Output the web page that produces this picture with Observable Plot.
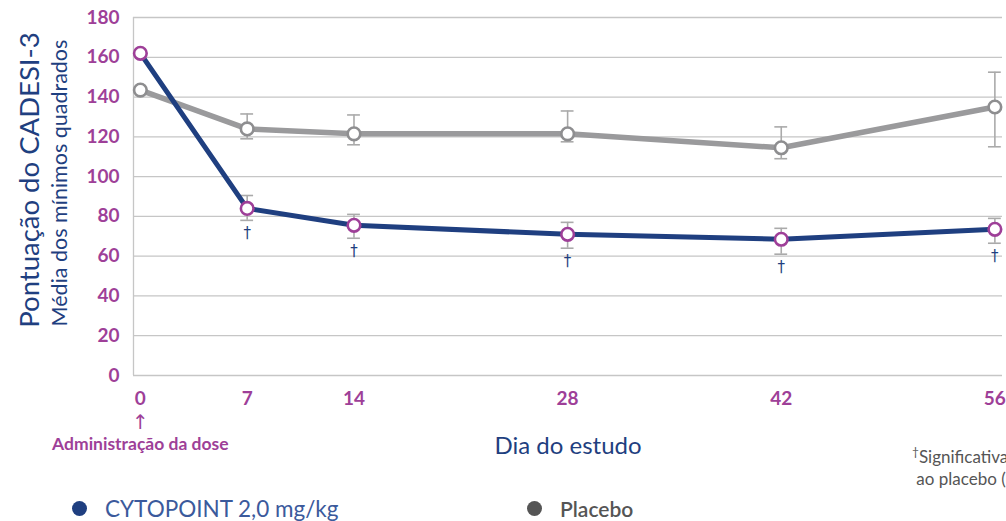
<!DOCTYPE html>
<html>
<head>
<meta charset="utf-8">
<script src="https://cdn.jsdelivr.net/npm/d3@7"></script>
<script src="https://cdn.jsdelivr.net/npm/@observablehq/plot@0.6"></script>
<style>
  html, body { margin: 0; padding: 0; background: #fff; overflow: hidden; }
  #wrap { position: relative; width: 1006px; height: 521px; overflow: hidden; font-family: Lato, "Open Sans", sans-serif; }
  .ytitle { position: absolute; white-space: nowrap; transform-origin: center center; transform: translate(-50%, -50%) rotate(-90deg); }
  #yt1 { left: 28px; top: 180px; font-size: 27.5px; color: #1f3f80; }
  #yt2 { left: 59px; top: 183px; font-size: 21.5px; color: #1f3f80; }
  #legend { position: absolute; left: 72px; top: 495px; font-size: 22.5px; white-space: nowrap; }
  .lg { position: absolute; top: 0; display: flex; align-items: center; }
  .sw { display: inline-block; width: 15px; height: 15px; border-radius: 50%; margin-right: 18px; }
  #foot { position: absolute; left: 912px; top: 441px; font-size: 17px; color: #555; line-height: 22px; white-space: nowrap; }
</style>
</head>
<body>
<div id="wrap">
  <div id="chart"></div>
  <div class="ytitle" id="yt1">Pontuação do CADESI-3</div>
  <div class="ytitle" id="yt2">Média dos mínimos quadrados</div>
  <div id="legend">
    <div class="lg" style="left:0px;color:#3b5a9c;"><span class="sw" style="background:#1f3f80"></span>CYTOPOINT 2,0 mg/kg</div>
    <div class="lg" style="left:455px;color:#555;font-weight:600;font-size:21px;top:1px;"><span class="sw" style="background:#555"></span>Placebo</div>
  </div>
  <div id="foot"><sup style="font-size:12px">†</sup>Significativamente diferente<br>&nbsp;ao placebo (P&lt;0,05)</div>
</div>
<script>
const days = [0, 7, 14, 28, 42, 56];
const cytoMean = [162, 84, 75.5, 71, 68.5, 73.5];
const cytoLow  = [162, 78, 69, 64, 61, 66.5];
const cytoHigh = [162, 90.5, 81, 77, 74, 79];
const placeboMean = [143.5, 124, 121.5, 121.5, 114.5, 135];
const placeboLow  = [143.5, 119, 116, 117.5, 109, 115];
const placeboHigh = [143.5, 131.5, 131, 133, 125, 152.5];
const significant = [false, true, true, true, true, true];
const yTicks = [0, 20, 40, 60, 80, 100, 120, 140, 160, 180];

const cyto = days.map((d, i) => ({day: d, mean: cytoMean[i], low: cytoLow[i], high: cytoHigh[i], sig: significant[i]}));
const placebo = days.map((d, i) => ({day: d, mean: placeboMean[i], low: placeboLow[i], high: placeboHigh[i]}));
const withErr = (arr) => arr.filter(d => d.high > d.low);

const xDomain = [-0.45, 56.5];
const cap = 0.42;
const navy = "#1f3f80", purple = "#9e3f98", gray = "#9a9a9c", errGray = "#aaaaaa";

const errMarks = (arr) => [
  Plot.ruleX(withErr(arr), {x: "day", y1: "low", y2: "high", stroke: errGray, strokeWidth: 1.6}),
  Plot.ruleY(withErr(arr), {y: "low", x1: d => d.day - cap, x2: d => d.day + cap, stroke: errGray, strokeWidth: 1.6}),
  Plot.ruleY(withErr(arr), {y: "high", x1: d => d.day - cap, x2: d => d.day + cap, stroke: errGray, strokeWidth: 1.6})
];

const chart = Plot.plot({
  width: 1006,
  height: 521,
  marginTop: 17,
  marginBottom: 146,
  marginLeft: 133,
  marginRight: 4,
  style: {fontFamily: "Lato, sans-serif", background: "transparent"},
  x: {domain: xDomain, ticks: days, tickSize: 0, tickPadding: 16, label: null},
  y: {domain: [0, 180], ticks: yTicks, tickSize: 0, tickPadding: 14, label: null},
  marks: [
    Plot.gridY(yTicks, {stroke: "#c6c6c6", strokeOpacity: 1, strokeWidth: 1.3}),
    Plot.ruleX([xDomain[0]], {stroke: "#c6c6c6", strokeWidth: 1.3}),
    Plot.axisY(yTicks, {tickSize: 0, tickPadding: 14, fill: purple, fontSize: 19, fontWeight: "bold"}),
    Plot.axisX(days, {tickSize: 0, tickPadding: 16, fill: purple, fontSize: 19, fontWeight: "bold"}),
    ...errMarks(placebo),
    ...errMarks(cyto),
    Plot.line(placebo, {x: "day", y: "mean", stroke: gray, strokeWidth: 5.5}),
    Plot.line(cyto, {x: "day", y: "mean", stroke: navy, strokeWidth: 5}),
    Plot.dot(placebo, {x: "day", y: "mean", r: 6.3, fill: "white", stroke: "#8e8e90", strokeWidth: 2.6}),
    Plot.dot(cyto, {x: "day", y: "mean", r: 6.3, fill: "white", stroke: purple, strokeWidth: 2.6}),
    Plot.text(cyto.filter(d => d.sig), {x: "day", y: "low", text: () => "†", dy: 13, fill: navy, fontSize: 15, fontFamily: "DejaVu Sans", fontWeight: "normal"}),
    Plot.text([0], {x: d => d, frameAnchor: "bottom", text: () => "↑", dy: 53, fill: purple, fontSize: 20, fontFamily: "DejaVu Sans"}),
    Plot.text([0], {x: d => d, frameAnchor: "bottom", text: () => "Administração da dose", dy: 74, fill: purple, fontSize: 17.5, fontWeight: "bold"}),
    Plot.text(["Dia do estudo"], {frameAnchor: "bottom", text: d => d, dy: 78, fill: navy, fontSize: 24})
  ]
});
document.getElementById("chart").appendChild(chart);
</script>
</body>
</html>
